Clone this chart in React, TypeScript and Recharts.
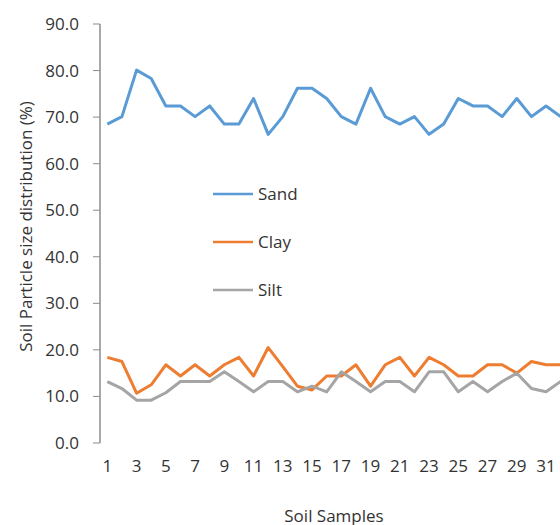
import React from 'react';
import { LineChart, Line, XAxis, YAxis, Legend } from 'recharts';

const samples = [1, 2, 3, 4, 5, 6, 7, 8, 9, 10, 11, 12, 13, 14, 15, 16, 17, 18, 19, 20, 21, 22, 23, 24, 25, 26, 27, 28, 29, 30, 31, 32];
const sand = [68.5, 70.1, 80.1, 78.3, 72.4, 72.4, 70.1, 72.4, 68.5, 68.5, 74.0, 66.3, 70.1, 76.2, 76.2, 74.0, 70.1, 68.5, 76.2, 70.1, 68.5, 70.1, 66.3, 68.5, 74.0, 72.4, 72.4, 70.1, 74.0, 70.1, 72.4, 70.1];
const clay = [18.4, 17.5, 10.7, 12.5, 16.8, 14.4, 16.8, 14.4, 16.8, 18.4, 14.4, 20.5, 16.4, 12.2, 11.4, 14.4, 14.4, 16.8, 12.2, 16.8, 18.4, 14.4, 18.4, 16.8, 14.4, 14.4, 16.8, 16.8, 15.0, 17.5, 16.8, 16.8];
const silt = [13.2, 11.7, 9.2, 9.2, 10.8, 13.2, 13.2, 13.2, 15.3, 13.2, 11.0, 13.2, 13.2, 11.0, 12.2, 11.0, 15.3, 13.2, 11.0, 13.2, 13.2, 11.0, 15.3, 15.3, 11.0, 13.2, 11.0, 13.2, 15.0, 11.7, 11.0, 13.2];
const seriesNames = ['Sand', 'Clay', 'Silt'];
const xTickLabels = [1, 3, 5, 7, 9, 11, 13, 15, 17, 19, 21, 23, 25, 27, 29, 31];
const yTicks = [0, 10, 20, 30, 40, 50, 60, 70, 80, 90];

const data = samples.map((s, i) => ({ sample: s, Sand: sand[i], Clay: clay[i], Silt: silt[i] }));
const boundaries = [...samples.map((s) => s - 0.5), samples[samples.length - 1] + 0.5];

const FONT = "'Open Sans', sans-serif";
const TEXT = '#333333';
const AXIS = '#8c8c8c';
const FS = 17;

const renderLegend = (props: any) => {
  const payload = [...(props.payload || [])].sort(
    (a: any, b: any) => seriesNames.indexOf(a.value) - seriesNames.indexOf(b.value)
  );
  return (
    <svg width={120} height={130} style={{ display: 'block' }}>
      {payload.map((p: any, i: number) => (
        <g key={p.value}>
          <line x1={0} x2={40} y1={12 + i * 48} y2={12 + i * 48} stroke={p.color} strokeWidth={2.5} />
          <text x={45} y={12 + i * 48} dy="0.35em" fontFamily={FONT} fontSize={FS} fill={TEXT}>
            {p.value}
          </text>
        </g>
      ))}
    </svg>
  );
};

const YTitle = (props: any) => {
  const { viewBox } = props;
  const cx = 25;
  const cy = viewBox.y + viewBox.height / 2 - 7;
  return (
    <text x={cx} y={cy} transform={`rotate(-90 ${cx} ${cy})`} textAnchor="middle" dominantBaseline="central" fontFamily={FONT} fontSize={FS} fill={TEXT}>
      Soil Particle size distribution (%)
    </text>
  );
};

const XTitle = (props: any) => {
  const { viewBox } = props;
  const cx = viewBox.x + viewBox.width / 2;
  return (
    <text x={cx} y={515} textAnchor="middle" dominantBaseline="central" fontFamily={FONT} fontSize={FS} fill={TEXT}>
      Soil Samples
    </text>
  );
};

export default function App() {
  return (
    <div style={{ position: 'fixed', left: 0, top: 0, width: 560, height: 525, overflow: 'hidden', background: '#fff' }}>
      <LineChart width={580} height={525} data={data} margin={{ top: 24, right: 12, left: 0, bottom: 0 }}>
        <XAxis
          xAxisId="marks"
          dataKey="sample"
          type="number"
          domain={[0.5, 32.5]}
          ticks={boundaries}
          tick={() => <g />}
          tickSize={6}
          tickLine={{ stroke: AXIS }}
          axisLine={{ stroke: AXIS, strokeWidth: 1.5 }}
          height={0}
          allowDataOverflow
        />
        <XAxis
          xAxisId="main"
          dataKey="sample"
          type="number"
          domain={[0.5, 32.5]}
          ticks={xTickLabels}
          tickLine={false}
          axisLine={false}
          tickSize={0}
          tickMargin={17}
          tick={{ fontFamily: FONT, fontSize: FS, fill: TEXT }}
          height={82}
          interval={0}
          allowDataOverflow
          label={<XTitle />}
        />
        <YAxis
          domain={[0, 90]}
          ticks={yTicks}
          tickFormatter={(v: number) => v.toFixed(1)}
          tickSize={7}
          tickMargin={14}
          tickLine={{ stroke: AXIS }}
          axisLine={{ stroke: AXIS, strokeWidth: 1.5 }}
          tick={{ fontFamily: FONT, fontSize: FS, fill: TEXT }}
          width={100}
          interval={0}
          label={<YTitle />}
        />
        <Legend
          layout="vertical"
          align="center"
          verticalAlign="middle"
          content={renderLegend}
          wrapperStyle={{ left: 213, top: 182, width: 120, height: 130 }}
        />
        <Line xAxisId="main" dataKey="Sand" stroke="#5b9bd5" strokeWidth={3} dot={false} isAnimationActive={false} strokeLinejoin="round" />
        <Line xAxisId="main" dataKey="Clay" stroke="#ed7d31" strokeWidth={3} dot={false} isAnimationActive={false} strokeLinejoin="round" />
        <Line xAxisId="main" dataKey="Silt" stroke="#a5a5a5" strokeWidth={3} dot={false} isAnimationActive={false} strokeLinejoin="round" />
      </LineChart>
    </div>
  );
}
